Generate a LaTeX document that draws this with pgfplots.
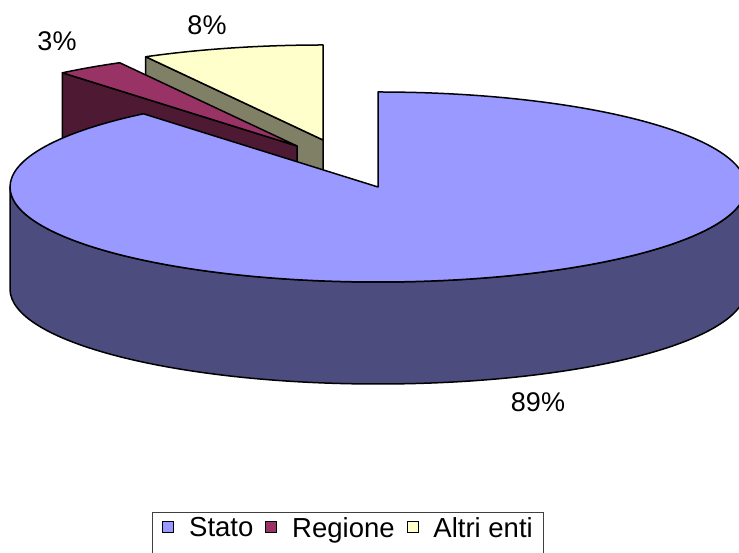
\documentclass[border=0pt]{standalone}
\usepackage{fontspec}
\setmainfont{Liberation Sans}
\usepackage{pgfplots}
\usepackage{pgfplotstable}
\pgfplotsset{compat=1.18}
\definecolor{mainTop}{HTML}{9999FF}
\definecolor{mainSide}{HTML}{4C4C7F}
\definecolor{regTop}{HTML}{993366}
\definecolor{regSide}{HTML}{4D1933}
\definecolor{altTop}{HTML}{FFFFCC}
\definecolor{altSide}{HTML}{808066}
\pgfplotstableread{
name value
Stato 89
Regione 3
Altri 8
}\piedata
\begin{document}
\begin{tikzpicture}
\pgfplotstablegetelem{0}{value}\of\piedata \let\vS\pgfplotsretval
\pgfplotstablegetelem{1}{value}\of\piedata \let\vR\pgfplotsretval
\pgfplotstablegetelem{2}{value}\of\piedata \let\vA\pgfplotsretval
% angles, clockwise from 12 o'clock: Stato, Regione, Altri enti
\pgfmathsetmacro\aA{90+\vA*3.6}
\pgfmathsetmacro\aR{\aA+\vR*3.6}
\pgfmathsetmacro\aS{\aR-360}
\begin{axis}[
  scale only axis, width=739pt, height=553pt,
  xmin=0, xmax=739, ymin=0, ymax=553,
  hide axis,
  legend columns=3,
  legend image code/.code={\draw[#1] (0pt,4pt) rectangle (11pt,15pt);},
  legend style={at={(axis cs:152,41)}, anchor=north west,
    draw=black!75, line width=0.8pt,
    font=\fontsize{27.5}{32}\selectfont,
    inner xsep=10pt, inner ysep=4pt,
    /tikz/every odd column/.append style={column sep=14pt},
    /tikz/every even column/.append style={column sep=11pt},
    nodes={inner sep=1pt, text depth=18pt}},
]
\addlegendimage{fill=mainTop, draw=black, line width=0.8pt}
\addlegendimage{fill=regTop, draw=black, line width=0.8pt}
\addlegendimage{fill=altTop, draw=black, line width=0.8pt}
\legend{Stato, Regione, Altri enti}
\begin{scope}[line width=1.5pt, line join=round, draw=black]
% Altri enti (exploded)
\filldraw[fill=altSide] (axis cs:323,413) -- ++(\aA:368pt and 95pt) -- ++(0,-102pt) -- (axis cs:323,311) -- cycle;
\filldraw[fill=altTop] (axis cs:323,413) -- ++(90:368pt and 95pt) arc[start angle=90, end angle=\aA, x radius=368pt, y radius=95pt] -- cycle;
% Regione (exploded)
\filldraw[fill=regSide] (axis cs:297,407) -- ++(\aR:368pt and 95pt) -- ++(0,-102pt) -- (axis cs:297,305) -- cycle;
\filldraw[fill=regTop] (axis cs:297,407) -- ++(\aA:368pt and 95pt) arc[start angle=\aA, end angle=\aR, x radius=368pt, y radius=95pt] -- cycle;
% Stato
\filldraw[fill=mainSide] (axis cs:378,366) ++(180:368pt and 95pt) arc[start angle=180, end angle=360, x radius=368pt, y radius=95pt] -- ++(0,-102pt) arc[start angle=360, end angle=180, x radius=368pt, y radius=95pt] -- cycle;
\filldraw[fill=mainTop] (axis cs:378,366) -- ++(90:368pt and 95pt) arc[start angle=90, end angle=\aS, x radius=368pt, y radius=95pt] -- cycle;
\end{scope}
\node[font=\fontsize{27}{32}\selectfont] at (axis cs:57,512) {3\%};
\node[font=\fontsize{27}{32}\selectfont] at (axis cs:207,528) {8\%};
\node[font=\fontsize{27}{32}\selectfont] at (axis cs:538,151) {89\%};
\end{axis}
\pgfresetboundingbox
\useasboundingbox (0,0) rectangle (739pt,553pt);
\end{tikzpicture}
\end{document}
